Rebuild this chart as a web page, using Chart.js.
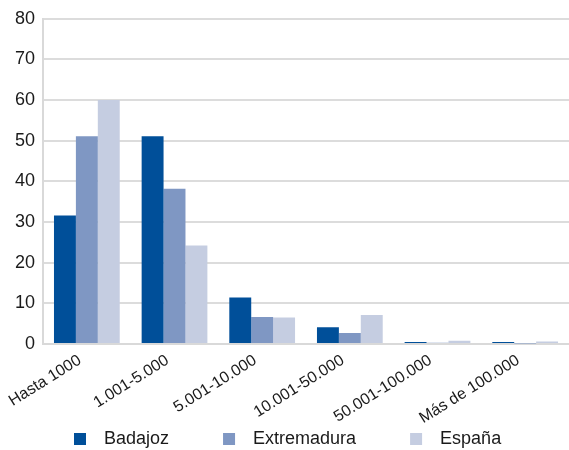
<!DOCTYPE html>
<html>
<head>
<meta charset="utf-8">
<script src="https://cdn.jsdelivr.net/npm/chart.js@4/dist/chart.umd.min.js"></script>
<style>
  html, body { margin: 0; padding: 0; background: #ffffff; }
  #wrap { width: 569px; height: 450px; position: relative; }
</style>
</head>
<body>
<div id="wrap"><canvas id="c"></canvas></div>
<script>
const categories = ['Hasta 1000', '1.001-5.000', '5.001-10.000', '10.001-50.000', '50.001-100.000', 'Más de 100.000'];
const seriesNames = ['Badajoz', 'Extremadura', 'España'];
const badajoz     = [31.6, 51.1, 11.4, 4.1, 0.5, 0.5];
const extremadura = [51.1, 38.2, 6.6, 2.7, 0.3, 0.1];
const espana      = [60.0, 24.2, 6.5, 7.1, 0.8, 0.6];
const yTicks = [0, 10, 20, 30, 40, 50, 60, 70, 80];

const colors = ['#004f99', '#7f97c3', '#c5cde1'];
const FONT = '"Liberation Sans", Arial, Helvetica, sans-serif';

const customLegend = {
  id: 'customLegend',
  afterDraw(chart) {
    const ctx = chart.ctx;
    ctx.save();
    ctx.font = '18px ' + FONT;
    ctx.textBaseline = 'middle';
    ctx.textAlign = 'left';
    let x = 74;
    const yMid = 439;
    chart.data.datasets.forEach((ds) => {
      ctx.fillStyle = ds.backgroundColor;
      ctx.fillRect(x, yMid - 6, 12, 12);
      ctx.fillStyle = '#1a1a1a';
      ctx.fillText(ds.label, x + 30, yMid);
      x += 30 + ctx.measureText(ds.label).width + 54;
    });
    ctx.restore();
  }
};

new Chart(document.getElementById('c'), {
  type: 'bar',
  data: {
    labels: categories,
    datasets: [
      { label: seriesNames[0], data: badajoz, backgroundColor: colors[0] },
      { label: seriesNames[1], data: extremadura, backgroundColor: colors[1] },
      { label: seriesNames[2], data: espana, backgroundColor: colors[2] }
    ]
  },
  options: {
    responsive: true,
    maintainAspectRatio: false,
    animation: false,
    layout: { padding: { top: 10, right: 0, left: 7, bottom: 15 } },
    datasets: { bar: { categoryPercentage: 0.75, barPercentage: 1.0 } },
    plugins: {
      legend: { display: false },
      tooltip: { enabled: false }
    },
    scales: {
      x: {
        grid: { display: false, drawTicks: false },
        border: { display: true, color: '#d9d9d9', width: 2 },
        ticks: {
          color: '#1a1a1a',
          font: { family: FONT, size: 16 },
          minRotation: 32, maxRotation: 32,
          padding: 7,
          labelOffset: -7
        }
      },
      y: {
        min: 0, max: 80,
        afterBuildTicks(axis) { axis.ticks = yTicks.map(v => ({ value: v })); },
        grid: { color: '#dcdcdc', lineWidth: 2, drawTicks: false },
        border: { display: true, color: '#d9d9d9', width: 2 },
        ticks: {
          color: '#1a1a1a',
          font: { family: FONT, size: 18 },
          padding: 8
        }
      }
    }
  },
  plugins: [customLegend]
});
</script>
</body>
</html>
